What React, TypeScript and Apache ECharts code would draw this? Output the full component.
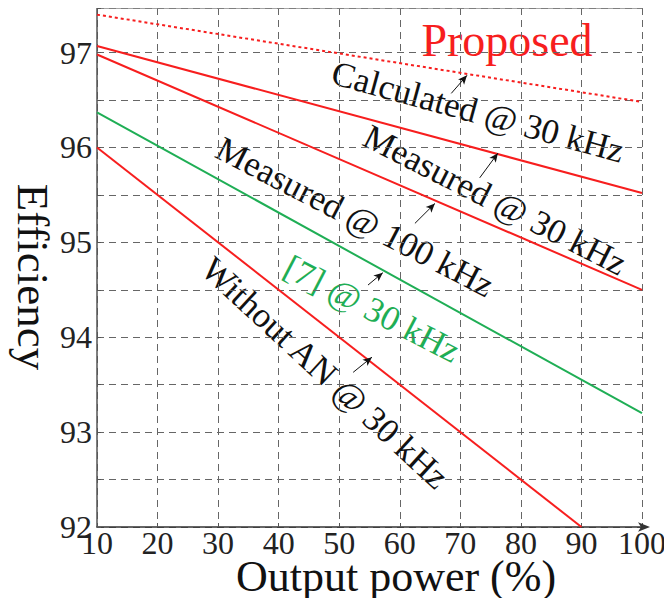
import React, { useEffect, useRef } from "react";
import * as echarts from "echarts";

// Output power (%) vs efficiency (%) — straight-line curves
const calculatedProposed: [number, number][] = [[10, 97.4], [100, 96.48]];
const measured30k: [number, number][] = [[10, 97.07], [100, 95.52]];
const measured100k: [number, number][] = [[10, 96.98], [100, 94.5]];
const ref7at30k: [number, number][] = [[10, 96.37], [100, 93.2]];
const withoutAN30k: [number, number][] = [[10, 96.0], [90, 92.0]];

const xTicks = [10, 20, 30, 40, 50, 60, 70, 80, 90, 100];
const yTickLabels = [92, 93, 94, 95, 96, 97];

// annotation arrows (tail -> tip), in data coordinates
const arrowCalculated: [number, number][] = [[68.5, 96.57], [71.1, 96.76]];
const arrowMeasured30k: [number, number][] = [[73.2, 95.68], [76.2, 95.94]];
const arrowMeasured100k: [number, number][] = [[62.5, 95.2], [65.8, 95.41]];
const arrowRef7: [number, number][] = [[54.75, 94.55], [57.2, 94.68]];
const arrowWithoutAN: [number, number][] = [[52.3, 93.63], [55.4, 93.79]];

const RED = "#f71e1e";
const GREEN = "#1fae55";
const FONT = "Liberation Serif";

function arrowMark(a: [number, number][]) {
  return {
    silent: true,
    symbol: ["none", "arrow"],
    symbolSize: [6, 9],
    label: { show: false },
    lineStyle: { color: "#111", width: 1, type: "solid" },
    data: [[{ coord: a[0] }, { coord: a[1] }]],
  };
}

function rotText(text: string, x: number, y: number, deg: number, size: number, fill: string) {
  return {
    type: "text",
    x,
    y,
    rotation: (-deg * Math.PI) / 180,
    silent: true,
    style: {
      text,
      fontSize: size,
      fontFamily: FONT,
      fill,
      align: "center",
      verticalAlign: "middle",
    },
  };
}

export default function App() {
  const ref = useRef<HTMLDivElement>(null);
  useEffect(() => {
    if (!ref.current) return;
    const chart = echarts.init(ref.current, undefined, { renderer: "svg" });
    const gridLine = { show: true, lineStyle: { color: "#666", width: 1, type: [7, 5] } };
    const option: any = {
      animation: false,
      backgroundColor: "#fff",
      grid: { left: 97, right: 30, top: 8, bottom: 79, containLabel: false },
      xAxis: [
        {
          type: "value",
          min: 10,
          max: 100,
          interval: 10,
          axisLine: {
            show: true,
            lineStyle: { color: "#333", width: 1.5 },
            symbol: ["none", "arrow"],
            symbolSize: [7, 12],
            symbolOffset: [0, 8],
          },
          axisTick: { show: true, inside: true, length: 4, lineStyle: { color: "#555" } },
          axisLabel: {
            fontSize: 32,
            fontFamily: FONT,
            color: "#222",
            margin: 0,
            formatter: (v: number) => (xTicks.includes(v) ? String(v) : ""),
          },
          splitLine: gridLine,
        },
        {
          type: "value",
          position: "top",
          min: 10,
          max: 100,
          interval: 10,
          axisLine: { show: true, lineStyle: { color: "#888", width: 1.5 } },
          axisTick: { show: false },
          axisLabel: { show: false },
          splitLine: { show: false },
        },
      ],
      yAxis: {
        type: "value",
        min: 92,
        max: 97.47,
        interval: 0.5,
        axisLine: { show: true, lineStyle: { color: "#555", width: 1.5 } },
        axisTick: { show: true, inside: true, length: 4, lineStyle: { color: "#555" } },
        axisLabel: {
          fontSize: 32,
          fontFamily: FONT,
          color: "#222",
          margin: 5,
          formatter: (v: number) => (yTickLabels.includes(v) ? String(v) : ""),
        },
        splitLine: gridLine,
      },
      series: [
        {
          name: "Calculated @ 30 kHz (Proposed)",
          type: "line",
          data: calculatedProposed,
          showSymbol: false,
          lineStyle: { color: RED, width: 2, type: [3, 3] },
          markLine: arrowMark(arrowCalculated),
        },
        {
          name: "Measured @ 30 kHz",
          type: "line",
          data: measured30k,
          showSymbol: false,
          lineStyle: { color: RED, width: 2 },
          markLine: arrowMark(arrowMeasured30k),
        },
        {
          name: "Measured @ 100 kHz",
          type: "line",
          data: measured100k,
          showSymbol: false,
          lineStyle: { color: RED, width: 2 },
          markLine: arrowMark(arrowMeasured100k),
        },
        {
          name: "[7] @ 30 kHz",
          type: "line",
          data: ref7at30k,
          showSymbol: false,
          lineStyle: { color: GREEN, width: 2 },
          markLine: arrowMark(arrowRef7),
        },
        {
          name: "Without AN @ 30 kHz",
          type: "line",
          data: withoutAN30k,
          showSymbol: false,
          lineStyle: { color: RED, width: 2 },
          markLine: arrowMark(arrowWithoutAN),
        },
      ],
      graphic: [
        rotText("Proposed", 507, 40, 0, 46, RED),
        rotText("Calculated @ 30 kHz", 478, 112, 15.3, 35, "#111"),
        rotText("Measured @ 30 kHz", 495, 200, 27, 35, "#111"),
        rotText("Measured @ 100 kHz", 355, 217, 27.4, 35, "#111"),
        rotText("[7] @ 30 kHz", 372, 309, 27.4, 35, GREEN),
        rotText("Without AN @ 30 kHz", 325, 373, 42.8, 35, "#111"),
        rotText("Output power (%)", 396, 576, 0, 44, "#111"),
        rotText("Efficiency", 33, 277, 90, 45, "#111"),
      ],
    };
    chart.setOption(option);
    return () => chart.dispose();
  }, []);
  return <div ref={ref} style={{ width: 672, height: 606, margin: -8 }} />;
}
